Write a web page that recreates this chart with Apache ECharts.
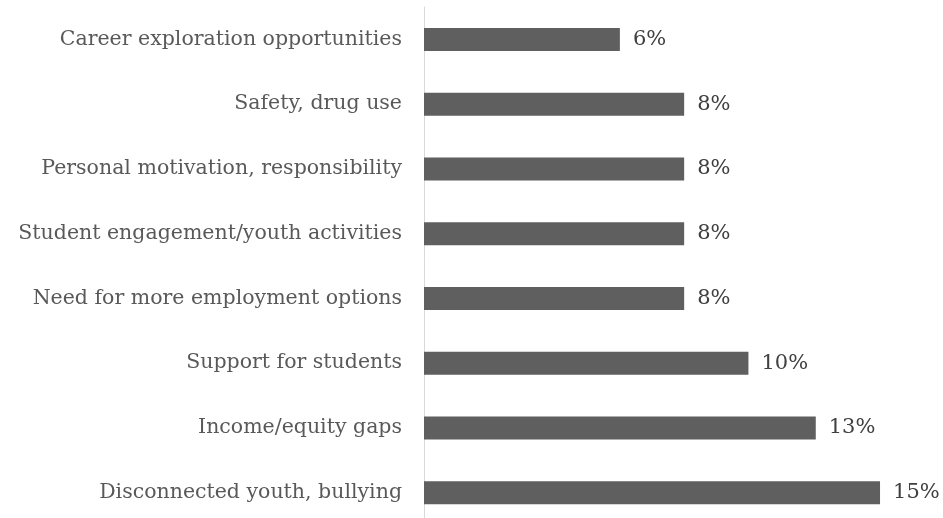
<!DOCTYPE html>
<html><head><meta charset="utf-8">
<script src="https://cdn.jsdelivr.net/npm/echarts@6/dist/echarts.min.js"></script>
<style>html,body{margin:0;padding:0;background:#fff}#c{width:943px;height:518px}</style>
</head><body><div id="c"></div>
<script>
const categories = ["Disconnected youth, bullying","Income/equity gaps","Support for students","Need for more employment options","Student engagement/youth activities","Personal motivation, responsibility","Safety, drug use","Career exploration opportunities"];
const values = [14.9, 12.8, 10.6, 8.5, 8.5, 8.5, 8.5, 6.4];
const valueLabels = ["15%","13%","10%","8%","8%","8%","8%","6%"];
const font = "DejaVu Serif";
const chart = echarts.init(document.getElementById('c'));
chart.setOption({
  animation:false,
  grid:{left:424, top:7, width:489.7, height:518, outerBoundsMode:'none', containLabel:false},
  xAxis:{type:'value', min:0, max:16, show:false},
  yAxis:{type:'category', data:categories,
    axisLine:{show:true, lineStyle:{color:'#d9d9d9', width:1}},
    axisTick:{show:false},
    axisLabel:{color:'#595959', fontFamily:font, fontSize:20.5, margin:22}},
  series:[{type:'bar', data:values, barWidth:23,
    itemStyle:{color:'#5f5f5f'},
    label:{show:true, position:'right', distance:13, color:'#404040', fontFamily:font, fontSize:21,
      formatter:p=>valueLabels[p.dataIndex]}}]
});
</script></body></html>
